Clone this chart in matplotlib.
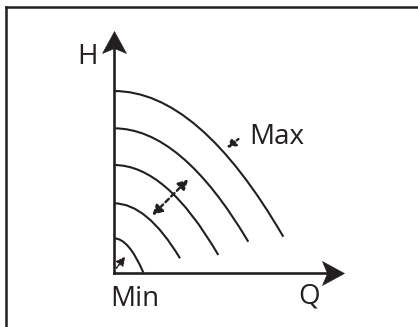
import matplotlib
matplotlib.use("Agg")
import matplotlib.pyplot as plt
from matplotlib.path import Path
from matplotlib.patches import PathPatch
from matplotlib.lines import Line2D

# ---- data (Q and H in arbitrary units) ----
curve_names = ["Max", "n4", "n3", "n2", "Min"]
shutoff_head = [18.15, 14.42, 10.75, 6.92, 3.42]   # H at Q = 0
end_flow = [16.93, 13.43, 10.43, 6.60, 2.93]       # Q at curve end
end_head = [3.58, 3.08, 1.75, 1.42, 0.0]           # H at curve end
axis_labels = ["H", "Q"]
range_labels = ["Max", "Min"]
q_axis_end = 23.0
h_axis_end = 24.2

INK = "#231f20"
plt.rcParams["font.family"] = ["Open Sans", "DejaVu Sans"]

fig = plt.figure(figsize=(4.18, 3.27), dpi=100)
ax = fig.add_axes([0, 0, 1, 1])
ax.set_xlim(-11.4, 30.4)
ax.set_ylim(-5.45, 27.25)
ax.axis("off")

# frame (only top and left edges visible)
fig.add_artist(Line2D([0.0132, 0.0132], [0.0, 0.980], transform=fig.transFigure,
                      color=INK, lw=1.8, solid_capstyle="projecting"))
fig.add_artist(Line2D([0.0132, 1.0], [0.980, 0.980], transform=fig.transFigure,
                      color=INK, lw=1.8, solid_capstyle="projecting"))

# notched arrow-head markers (tip at the marker origin)
head_up = Path([(0, 0), (12, -22), (0, -17), (-12, -22), (0, 0)],
               [Path.MOVETO, Path.LINETO, Path.LINETO, Path.LINETO, Path.CLOSEPOLY])
head_right = Path([(0, 0), (-22, 12), (-17, 0), (-22, -12), (0, 0)],
                  [Path.MOVETO, Path.LINETO, Path.LINETO, Path.LINETO, Path.CLOSEPOLY])

# axes lines
ax.plot([0, 0], [0, h_axis_end - 1.5], color=INK, lw=1.9, solid_capstyle="projecting")
ax.plot([0, q_axis_end - 1.5], [0, 0], color=INK, lw=1.9, solid_capstyle="projecting")
ax.plot([0], [h_axis_end], marker=head_up, ms=31.7, color=INK, mew=0.4, mec=INK)
ax.plot([q_axis_end], [0], marker=head_right, ms=31.7, color=INK, mew=0.4, mec=INK)

# pump curves (parabolic, vertex on the H axis)
for h0, qe, he in zip(shutoff_head, end_flow, end_head):
    path = Path([(0, h0), (qe / 2.0, h0), (qe, he)],
                [Path.MOVETO, Path.CURVE3, Path.CURVE3])
    ax.add_patch(PathPatch(path, fill=False, lw=1.5, edgecolor=INK,
                           transform=ax.transData, capstyle="butt"))

# dashed indicator arrows
ax.annotate("", xy=(11.27, 12.45), xytext=(12.45, 13.35),
            arrowprops=dict(arrowstyle="-|>,head_length=0.27,head_width=0.14",
                            mutation_scale=20, lw=1.6, linestyle=(0, (1.0, 2.0)),
                            color=INK, shrinkA=0, shrinkB=0))
ax.annotate("", xy=(7.43, 9.32), xytext=(3.83, 5.72),
            arrowprops=dict(arrowstyle="<|-|>,head_length=0.29,head_width=0.15",
                            mutation_scale=20, lw=1.7, linestyle=(0, (2.0, 1.4)),
                            color=INK, shrinkA=0, shrinkB=0))
ax.annotate("", xy=(1.12, 1.58), xytext=(0.25, 0.45),
            arrowprops=dict(arrowstyle="-|>,head_length=0.25,head_width=0.13",
                            mutation_scale=20, lw=1.2, linestyle=(0, (0.8, 1.0)),
                            color=INK, shrinkA=0, shrinkB=0))

# labels
fs = 20
ax.text(-2.65, 20.9, axis_labels[0], fontsize=fs, color=INK, ha="center", va="baseline")
ax.text(18.4, -3.05, axis_labels[1], fontsize=fs, color=INK, ha="left", va="baseline")
ax.text(13.5, 12.85, range_labels[0], fontsize=fs, color=INK, ha="left", va="baseline")
ax.text(-0.4, -3.35, range_labels[1], fontsize=fs, color=INK, ha="left", va="baseline")

fig.savefig("out.png", dpi=100)
